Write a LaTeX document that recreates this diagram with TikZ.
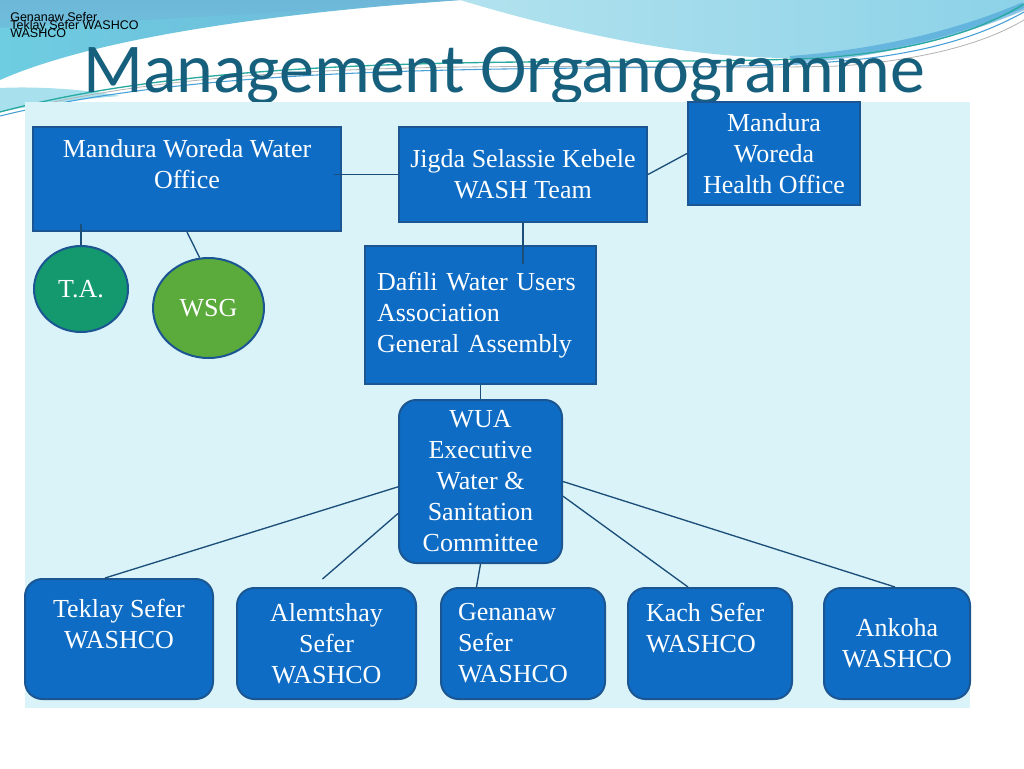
\documentclass[tikz,border=0pt]{standalone}
\usepackage{fontspec}
\setmainfont{Liberation Serif}
\newfontfamily\titlefont{Carlito}
\newfontfamily\smallsans{Liberation Sans}
\usetikzlibrary{shapes.geometric}
\definecolor{panel}{RGB}{218,243,248}
\definecolor{boxfill}{RGB}{14,108,196}
\definecolor{boxline}{RGB}{27,86,146}
\definecolor{conn}{RGB}{28,78,122}
\definecolor{tafill}{RGB}{20,152,110}
\definecolor{wsgfill}{RGB}{91,170,60}
\definecolor{titlecol}{RGB}{22,96,126}
\definecolor{topdark}{RGB}{110,182,216}
\definecolor{topcyan}{RGB}{110,205,225}
\definecolor{toplight}{RGB}{178,226,238}
\definecolor{topmid}{RGB}{140,210,232}
\definecolor{bandblue}{RGB}{70,160,215}
\definecolor{lineteal}{RGB}{40,170,160}
\tikzset{
  orgbox/.style={draw=boxline, line width=1.5pt, fill=boxfill, text=white, inner sep=0pt,
    font=\fontsize{19.5}{23.25}\selectfont, align=center},
  roundbox/.style={orgbox, rounded corners=13pt},
  circ/.style={ellipse, draw=boxline, line width=1.5pt, text=white, inner sep=0pt,
    font=\fontsize{19.5}{23.25}\selectfont},
  link/.style={draw=conn, line width=1pt},
  smalltext/.style={font=\smallsans\fontsize{9.4}{12}\selectfont, inner sep=0pt}
}
\begin{document}
\begin{tikzpicture}[x=0.75pt, y=-0.75pt]
\useasboundingbox (0,0) rectangle (1024,768);
\fill[white] (0,0) rectangle (1024,768);
% top decoration
\shade[left color=topcyan, right color=topdark]
  (0,0) -- (460,0) .. controls (260,14) and (90,40) .. (0,80) -- cycle;
\shade[top color=topdark, bottom color=topdark!60!topcyan]
  (0,0) -- (460,0) .. controls (380,6) and (300,12) .. (0,28) -- cycle;
\shade[left color=toplight, right color=topmid]
  (460,0) -- (1024,0) -- (1024,8) .. controls (960,35) and (880,58) .. (790,58)
  .. controls (680,58) and (560,30) .. (460,0) -- cycle;
\fill[topcyan!60!white] (0,88) .. controls (40,86) and (90,90) .. (120,96)
  .. controls (70,100) and (30,106) .. (0,112) -- cycle;
\draw[bandblue, line width=6pt, opacity=0.6] (790,60) .. controls (900,52) and (980,25) .. (1024,6);
\draw[lineteal, line width=1pt] (0,112) .. controls (250,45) and (620,68) .. (820,58) .. controls (930,50) and (990,25) .. (1024,4);
\draw[bandblue, line width=0.8pt] (0,116) .. controls (260,52) and (640,76) .. (830,62) .. controls (940,54) and (995,28) .. (1024,12);
\draw[gray!60, line width=0.6pt] (40,105) .. controls (280,50) and (640,72) .. (840,66) .. controls (950,58) and (1000,34) .. (1024,20);
% small overlapping texts
\node[smalltext, anchor=north west, align=left] (gen) at (10,12) {Genanaw Sefer\\WASHCO};
\node[smalltext, anchor=base west] (tek) at (10,29) {Teklay Sefer WASHCO};
% title
\node[font=\titlefont\fontsize{52.5}{60}\selectfont, text=titlecol, anchor=base west, inner sep=0pt] (title) at (83,92) {Management Organogramme};
% panel
\fill[panel] (25,102) rectangle (970,708);
% nodes
\node[orgbox, minimum width=308*0.75pt, minimum height=104*0.75pt] (water) at (187,179) {Mandura Woreda Water\\Office\\\mbox{}};
\node[orgbox, minimum width=248*0.75pt, minimum height=95*0.75pt] (jigda) at (523,174.5) {Jigda Selassie Kebele\\WASH Team};
\node[orgbox, minimum width=172*0.75pt, minimum height=103*0.75pt] (health) at (774,153.5) {Mandura\\Woreda\\Health Office};
\node[circ, fill=tafill, minimum width=94*0.75pt, minimum height=86*0.75pt] (ta) at (81,289) {T.A.};
\node[circ, fill=wsgfill, minimum width=111*0.75pt, minimum height=100*0.75pt] (wsg) at (208.5,308) {WSG};
\node[orgbox, minimum width=231*0.75pt, minimum height=138*0.75pt, text width=207*0.75pt, align=left] (dafili) at (480.5,315) {Dafili Water Users\\Association\\General Assembly};
\node[roundbox, minimum width=163*0.75pt, minimum height=163*0.75pt] (wua) at (480.5,481.5) {WUA\\Executive\\Water \&\\Sanitation\\Committee};
\node[roundbox, minimum width=188*0.75pt, minimum height=120*0.75pt] (teklay) at (119,639) {Teklay Sefer\\WASHCO\\\mbox{}};
\node[roundbox, minimum width=179*0.75pt, minimum height=111*0.75pt] (alem) at (326.5,643.5) {Alemtshay\\Sefer\\WASHCO};
\node[roundbox, minimum width=164*0.75pt, minimum height=111*0.75pt, text width=130*0.75pt, align=left] (genanaw) at (523,643.5) {Genanaw\\Sefer\\WASHCO};
\node[roundbox, minimum width=164*0.75pt, minimum height=111*0.75pt, text width=128*0.75pt, align=left] (kach) at (710,643.5) {Kach Sefer\\WASHCO\\\mbox{}};
\node[roundbox, minimum width=146*0.75pt, minimum height=111*0.75pt] (ankoha) at (897,643.5) {Ankoha\\WASHCO};
% connectors
\draw[link] ([xshift=-6pt]water.east |- jigda.west) -- (jigda.west);
\draw[link] (jigda.east) -- (health.west);
\draw[link] (jigda.south) -- ([yshift=-14pt]jigda.south |- dafili.north);
\draw[link] ([yshift=6pt]ta.north |- water.south) -- (ta.north);
\draw[link] (water.south) -- (wsg.100);
\draw[link] (dafili.south) -- (wua.north);
\draw[link] ([yshift=-4pt]wua.west) -- ([xshift=-10.5pt]teklay.north);
\draw[link] ([yshift=-24pt]wua.west) -- ([xshift=-3pt,yshift=6pt]alem.north);
\draw[link] (wua.south) -- ([xshift=-3pt]wua.south |- genanaw.north);
\draw[link] ([yshift=-11pt]wua.east) -- ([xshift=-16.5pt]kach.north);
\draw[link] (wua.east) -- ([xshift=-1.5pt]ankoha.north);
\end{tikzpicture}
\end{document}
